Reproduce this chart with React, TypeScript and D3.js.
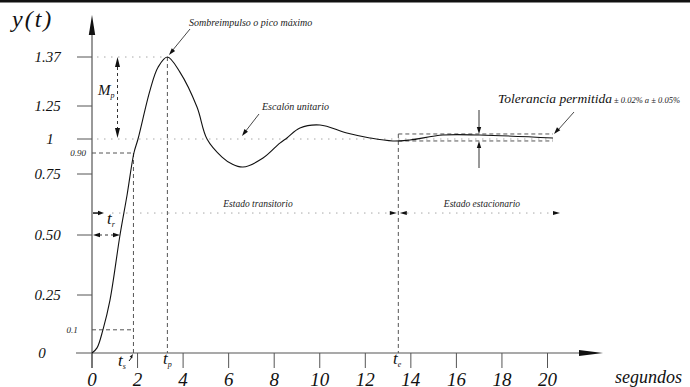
import React from 'react';
import * as d3 from 'd3';

// ---- data ----
const timeS = [0, 0.22, 0.48, 0.79, 1.23, 1.54, 1.84, 2.02, 2.55, 2.9, 3.31, 3.86, 4.61, 5.05, 5.71, 6.15, 6.63, 7.51, 8.25, 8.56, 9.13, 10.01, 11.19, 12.2, 13.21, 13.96, 15.41, 17.03, 20.24];
const response = [0, 0.022, 0.1, 0.228, 0.5, 0.664, 0.9, 1.0, 1.289, 1.345, 1.37, 1.333, 1.242, 1.0, 0.871, 0.821, 0.8, 0.864, 0.971, 1.008, 1.083, 1.106, 1.045, 1.008, 0.986, 0.993, 1.03, 1.03, 1.008];
const xTicks = [0, 2, 4, 6, 8, 10, 12, 14, 16, 18, 20];
const yTicks = [0, 0.25, 0.5, 0.75, 1, 1.25, 1.37];
const yTickLabels = ['0', '0.25', '0.50', '0.75', '1', '1.25', '1.37'];
const tRise = 1.82; // t_s
const tPeak = 3.31; // t_p
const tSettle = 13.45; // t_e
const tEnd = 20.24;
const peakValue = 1.37;
const riseLow = 0.1;
const riseHigh = 0.9;
const bandHigh = 1.038;
const bandLow = 0.986;
const stateRowValue = 0.59;

const F = "'Liberation Serif'";

function head(tx: number, ty: number, dx: number, dy: number, len = 7, half = 2.3) {
  const n = Math.hypot(dx, dy);
  const ux = dx / n, uy = dy / n;
  const bx = tx - ux * len, by = ty - uy * len;
  const px = -uy * half, py = ux * half;
  return `${tx},${ty} ${bx + px},${by + py} ${bx - px},${by - py}`;
}

const T = (props: any) => {
  const { size, children, ...rest } = props;
  return (
    <text {...rest} style={{ fontFamily: F, fontStyle: 'italic', fontSize: size + 'px' }}>
      {children}
    </text>
  );
};

export default function App() {
  const W = 690, H = 387;
  const x = d3.scaleLinear().domain([0, 20]).range([92, 547.5]);
  const y = d3.scaleLinear().domain(yTicks).range([353, 295, 235, 174, 139, 106, 57]);
  const line = d3
    .line<number>()
    .x((_, i) => x(timeS[i]))
    .y((d) => y(d))
    .curve(d3.curveCatmullRom.alpha(0.5));

  const axisC = '#555';
  const dash = '4 3';
  const dotC = '#a8a8a8';
  const dots = '1.5 5.5';
  const x0 = x(0), yb = y(0);
  const xs = x(tRise), xp = x(tPeak), xe = x(tSettle), xend = x(tEnd);
  const y1 = y(1), ypk = y(peakValue), y09 = y(riseHigh), y01 = y(riseLow), y05 = y(0.5);
  const ybh = y(bandHigh), ybl = y(bandLow), yst = y(stateRowValue);
  const mpX = 117.5;
  const tolX = 479;

  return (
    <svg width={W} height={H} style={{ position: 'absolute', left: 0, top: 0, background: '#fff' }}>
      <rect x={0} y={0} width={W} height={2.5} fill="#111" />

      {/* axes */}
      <line x1={x0} y1={34} x2={x0} y2={368} stroke={axisC} strokeWidth={1.2} />
      <polygon points={head(x0, 15, 0, -1, 20, 3.2)} fill="#111" />
      <line x1={76} y1={yb} x2={581} y2={yb} stroke={axisC} strokeWidth={1.2} />
      <polygon points={head(603, yb, 1, 0, 24, 3)} fill="#111" />

      {xTicks.map((t) => (
        <g key={'xt' + t}>
          <line x1={x(t)} y1={yb} x2={x(t)} y2={368} stroke={axisC} strokeWidth={1} />
          <T x={x(t)} y={386} size={19} textAnchor="middle" fill="#111">{t}</T>
        </g>
      ))}
      {yTicks.map((v, i) => (
        <g key={'yt' + v}>
          {v !== 0 && <line x1={77} y1={y(v)} x2={x0} y2={y(v)} stroke={axisC} strokeWidth={1} />}
          <T x={v === 0 ? 42 : v === 1 ? 50 : 47.5} y={y(v)} dy="0.35em" size={15} textAnchor="middle" fill="#111">{yTickLabels[i]}</T>
        </g>
      ))}

      <T x={12} y={27} size={24} letterSpacing={2} fill="#111">y(t)</T>
      <T x={615} y={383} size={18} fill="#111">segundos</T>

      {/* dotted reference lines */}
      <line x1={97} y1={ypk} x2={xp} y2={ypk} stroke={dotC} strokeDasharray={dots} />
      <line x1={97} y1={y1} x2={xend} y2={y1} stroke={dotC} strokeDasharray={dots} />
      <line x1={112} y1={yst} x2={391} y2={yst} stroke={dotC} strokeDasharray={dots} />
      <line x1={407} y1={yst} x2={553} y2={yst} stroke={dotC} strokeDasharray={dots} />

      {/* dashed guides */}
      <line x1={x0} y1={y09} x2={xs} y2={y09} stroke={axisC} strokeDasharray={dash} />
      <line x1={x0} y1={y01} x2={xs} y2={y01} stroke={axisC} strokeDasharray={dash} />
      <line x1={xs} y1={y09} x2={xs} y2={yb} stroke={axisC} strokeDasharray={dash} />
      <line x1={xp} y1={ypk} x2={xp} y2={yb} stroke={axisC} strokeDasharray={dash} />
      <line x1={xe} y1={ybh} x2={xe} y2={yb} stroke={axisC} strokeDasharray={dash} />
      <line x1={xe} y1={ybh} x2={xend} y2={ybh} stroke={axisC} strokeDasharray={dash} />
      <line x1={xe} y1={ybl} x2={xend} y2={ybl} stroke={axisC} strokeDasharray={dash} />

      <T x={78} y={y09} dy="0.35em" size={9} textAnchor="middle" fill="#222">0.90</T>
      <T x={72} y={y01} dy="0.35em" size={9} textAnchor="middle" fill="#222">0.1</T>

      {/* response curve */}
      <path d={line(response) || ''} fill="none" stroke="#111" strokeWidth={1.1} />

      {/* Mp */}
      <line x1={mpX} y1={ypk + 10} x2={mpX} y2={y1 - 10} stroke="#333" strokeDasharray="3 3" />
      <polygon points={head(mpX, ypk, 0, -1, 10, 2.5)} fill="#111" />
      <polygon points={head(mpX, y1 - 1, 0, 1, 10, 2.5)} fill="#111" />
      <T x={98} y={95} size={15} fill="#111">M<tspan style={{ fontSize: '8px' }} dy={3}>p</tspan></T>

      {/* t_r */}
      <line x1={93} y1={yst} x2={99} y2={yst} stroke="#111" strokeWidth={1.5} />
      <polygon points={head(104, yst, 1, 0, 6, 2.2)} fill="#111" />
      <T x={107} y={224} size={17} fill="#111">t<tspan style={{ fontSize: '8px' }} dy={3}>r</tspan></T>
      <line x1={99} y1={y05} x2={114} y2={y05} stroke="#333" strokeDasharray="3 3" />
      <polygon points={head(93, y05, -1, 0, 7, 2.2)} fill="#111" />
      <polygon points={head(x(1.23), y05, 1, 0, 7, 2.2)} fill="#111" />

      {/* time labels */}
      <T x={118} y={366} size={17} fill="#111">t<tspan style={{ fontSize: '8px' }} dy={3}>s</tspan></T>
      <line x1={129} y1={361} x2={132} y2={357} stroke="#111" strokeWidth={1} />
      <polygon points={head(xs - 0.5, yb + 1, 0.6, -1, 4, 1.5)} fill="#111" />
      <T x={163} y={364} size={17} fill="#111">t<tspan style={{ fontSize: '8px' }} dy={3}>p</tspan></T>
      <T x={393} y={364} size={17} fill="#111">t<tspan style={{ fontSize: '8px' }} dy={3}>e</tspan></T>

      {/* state arrows */}
      <polygon points={head(xe - 1.5, yst, 1, 0, 7, 2)} fill="#111" />
      <polygon points={head(xe + 1.5, yst, -1, 0, 7, 2)} fill="#111" />
      <polygon points={head(560, yst, 1, 0, 7, 2)} fill="#111" />
      <T x={258} y={207} size={9.5} textAnchor="middle" fill="#222">Estado transitorio</T>
      <T x={482} y={207} size={9.5} textAnchor="middle" fill="#222">Estado estacionario</T>

      {/* annotations */}
      <T x={189} y={26} size={10} fill="#222">Sombreimpulso o pico máximo</T>
      <line x1={190} y1={29} x2={172} y2={51} stroke="#333" strokeWidth={0.9} />
      <polygon points={head(169, 55, -0.63, 0.77, 7, 2.2)} fill="#111" />
      <T x={262} y={110} size={10} fill="#222">Escalón unitario</T>
      <line x1={259} y1={114} x2={245} y2={132} stroke="#333" strokeWidth={0.9} />
      <polygon points={head(242, 136, -0.6, 0.8, 7, 2.2)} fill="#111" />

      <T x={498} y={103} size={13.5} fill="#111">Tolerancia permitida</T>
      <T x={614} y={103} size={8.5} fill="#222">± 0.02%  a ± 0.05%</T>
      <line x1={574} y1={112} x2={558} y2={130} stroke="#333" strokeWidth={0.9} />
      <polygon points={head(554, 134, -0.66, 0.75, 7, 2.2)} fill="#111" />
      <line x1={tolX} y1={110} x2={tolX} y2={ybh - 6} stroke="#333" />
      <polygon points={head(tolX, ybh, 0, 1, 7, 2.2)} fill="#111" />
      <line x1={tolX} y1={168} x2={tolX} y2={ybl + 6} stroke="#333" />
      <polygon points={head(tolX, ybl, 0, -1, 7, 2.2)} fill="#111" />
    </svg>
  );
}
